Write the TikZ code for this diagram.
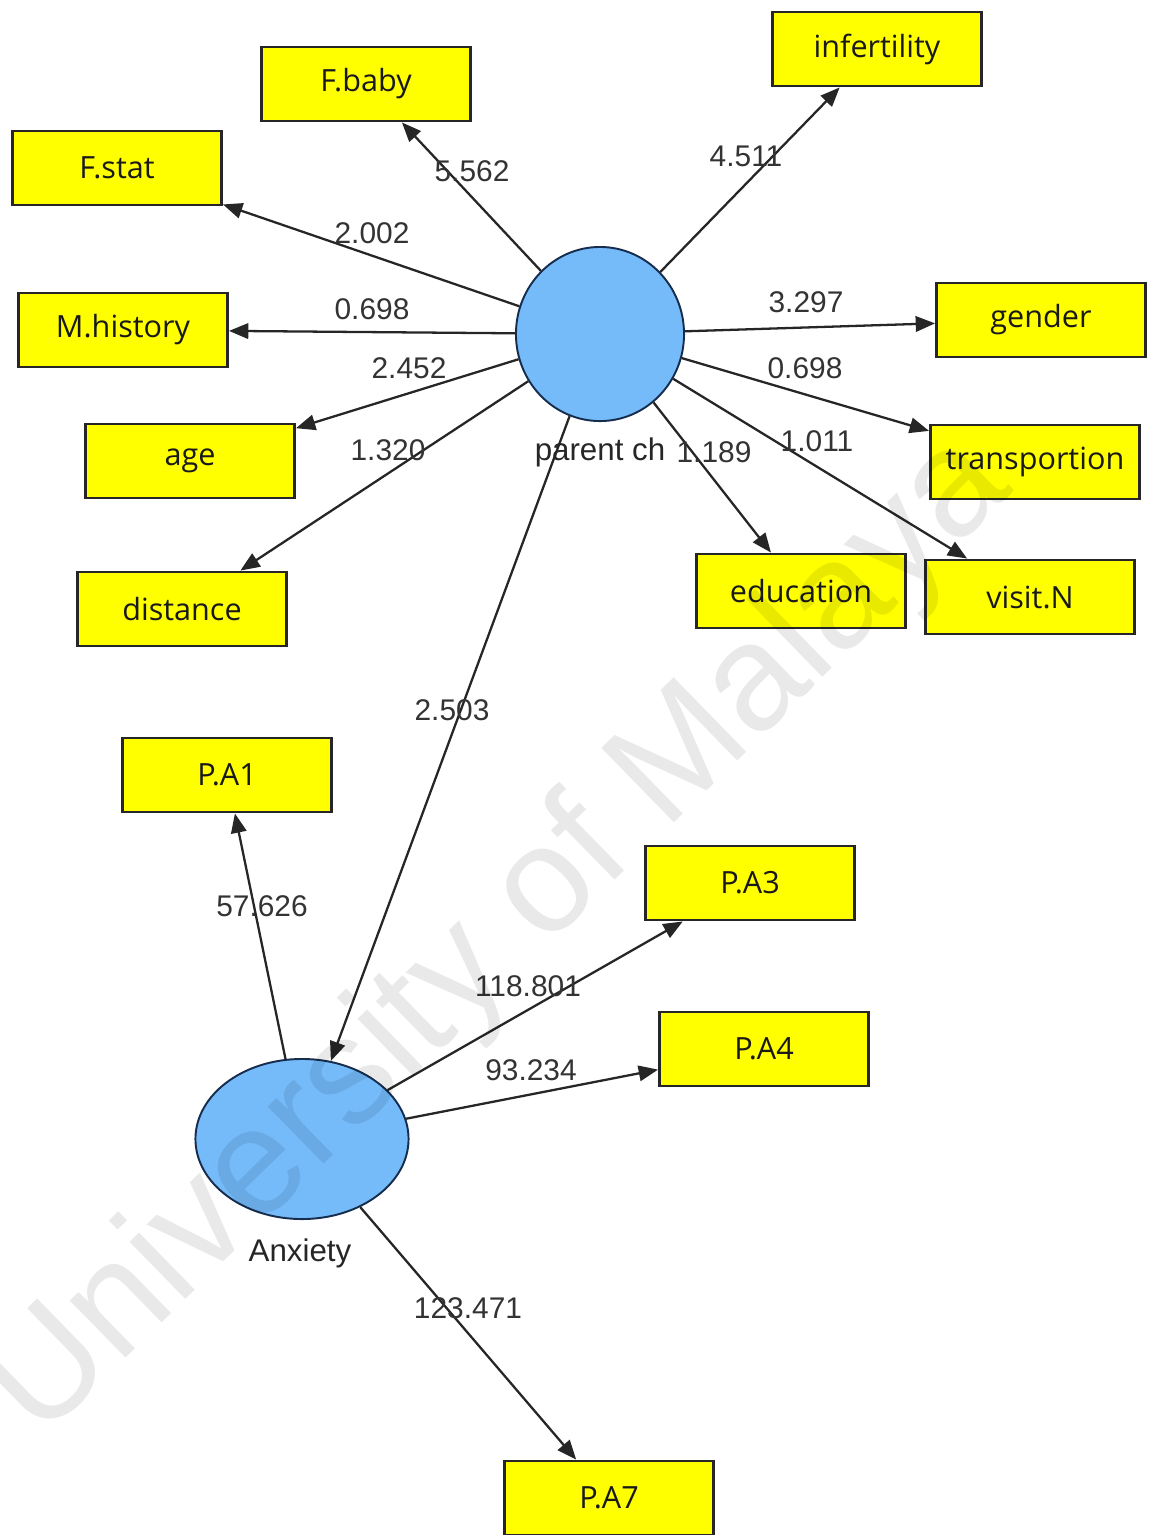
\documentclass[tikz,border=0pt]{standalone}
\usepackage{fontspec}
\setmainfont{Liberation Sans}
\newfontfamily\boxfont{Open Sans}
\usetikzlibrary{arrows.meta,shapes.geometric}
\definecolor{indyellow}{RGB}{255,255,0}
\definecolor{latentblue}{RGB}{117,187,250}
\definecolor{latentedge}{RGB}{22,45,78}
\begin{document}
\begin{tikzpicture}[x=0.01cm,y=-0.01cm,
  indicator/.style={draw=black!85, line width=0.8pt, fill=indyellow,
    minimum width=2.09cm, minimum height=0.74cm, inner sep=0pt,
    font=\boxfont\fontsize{8.7}{10}\selectfont, text=black!90},
  latent/.style={ellipse, draw=latentedge, line width=0.55pt, fill=latentblue, inner sep=0pt},
  loading/.style={-{Triangle[length=5.5pt,width=4.4pt]}, line width=0.65pt, draw=black!85},
  val/.style={font=\fontsize{8.5}{10}\selectfont, text=black!80, inner sep=0pt},
  lvname/.style={font=\fontsize{8.9}{10}\selectfont, text=black!85, inner sep=0pt}
]
\useasboundingbox (0,0) rectangle (1150,1535);

% latent variables
\node[latent, minimum width=1.68cm, minimum height=1.74cm] (pc) at (600,334) {};
\node[latent, minimum width=2.13cm, minimum height=1.60cm] (anx) at (302,1139) {};
\node[lvname] (pcname) at (600,452) {parent ch};
\node[lvname] (anxname) at (300,1253) {Anxiety};

% indicators of parent ch
\node[indicator] (fbaby) at (366,84) {F.baby};
\node[indicator] (infert) at (877,49) {infertility};
\node[indicator] (fstat) at (117,168) {F.stat};
\node[indicator] (mhist) at (123,330) {M.history};
\node[indicator] (gender) at (1041,320) {gender};
\node[indicator] (age) at (190,461) {age};
\node[indicator] (transp) at (1035,462) {transportion};
\node[indicator] (dist) at (182,609) {distance};
\node[indicator] (educ) at (801,591) {education};
\node[indicator] (visit) at (1030,597) {visit.N};

% indicators of Anxiety
\node[indicator] (pa1) at (227,775) {P.A1};
\node[indicator] (pa3) at (750,883) {P.A3};
\node[indicator] (pa4) at (764,1049) {P.A4};
\node[indicator] (pa7) at (609,1498) {P.A7};

% outer loadings
\draw[loading] (pc) -- (fbaby);
\draw[loading] (pc) -- (infert);
\draw[loading] (pc) -- (fstat);
\draw[loading] (pc) -- (mhist);
\draw[loading] (pc) -- (gender);
\draw[loading] (pc) -- (age);
\draw[loading] (pc) -- (transp);
\draw[loading] (pc) -- (dist);
\draw[loading] (pc) -- (educ);
\draw[loading] (pc) -- (visit);
\draw[loading] (pc) -- (anx);
\draw[loading] (anx) -- (pa1);
\draw[loading] (anx) -- (pa3);
\draw[loading] (anx) -- (pa4);
\draw[loading] (anx) -- (pa7);

% t-values
\node[val] (vfbaby) at (472,171) {5.562};
\node[val] (vinfert) at (746,156) {4.511};
\node[val] (vfstat) at (372,233) {2.002};
\node[val] (vmhist) at (372,309) {0.698};
\node[val] (vgender) at (806,302) {3.297};
\node[val] (vage) at (409,368) {2.452};
\node[val] (vtransp) at (805,368) {0.698};
\node[val] (vdist) at (388,450) {1.320};
\node[val] (veduc) at (714,452) {1.189};
\node[val] (vvisit) at (817,441) {1.011};
\node[val] (vanx) at (452,710) {2.503};
\node[val] (vpa1) at (262,906) {57.626};
\node[val] (vpa3) at (528,986) {118.801};
\node[val] (vpa4) at (531,1070) {93.234};
\node[val] (vpa7) at (468,1308) {123.471};

% repository watermark
\node[rotate=44.3, text=black, opacity=0.085, inner sep=0pt,
  font=\fontsize{43}{50}\selectfont] (mark) at (500,938) {University of Malaya};
\end{tikzpicture}
\end{document}
